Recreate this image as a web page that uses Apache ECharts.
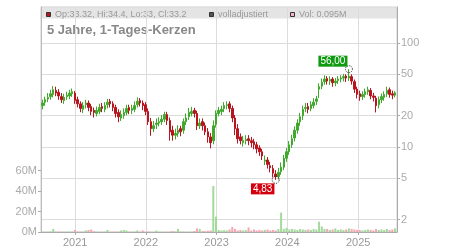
<!DOCTYPE html>
<html><head><meta charset="utf-8">
<script src="https://cdn.jsdelivr.net/npm/echarts@6/dist/echarts.min.js"></script>
<style>html,body{margin:0;padding:0;background:#fff}#c{width:450px;height:250px}</style>
</head><body><div id="c"></div><script>
// price candles (one candle per 14 calendar days)
const opens=[25,27,29,30.5,32,35,33.5,30.5,28,30.5,31,32.5,33,28.5,26,23,25.5,26.5,24.5,22.5,21,22,24.5,23,25.5,27.5,26,24,21.5,19,20,21.5,24,22.5,23,25.5,28,26.5,25.5,22,17.5,15,16.5,17,17.5,18.5,20.5,18,14.5,13,13.5,15,14.5,17.5,19.5,21,22.5,21,16,17.5,16,14,12.5,11.5,16.5,21,22,23.5,25,26,23.5,19,15,12.5,11,11.5,12,11.5,11.2,10.5,9.8,9,7.3,7.5,6.6,6.2,5.5,5.2,5.8,6.4,7.8,9,10.5,12.2,14.5,17.5,20,23.5,24.5,23.5,25,27.5,36,38.5,42.5,45.5,43,45,41.5,43.5,45,46,48,46,47.5,42.5,36,32.5,30.5,32,34,35,31,29.5,25.5,28.5,30,32.5,35.5,32.5,31.5];
const closes=[26.5,28.5,30,32.5,35.5,33,31,28.5,30,31.5,33,34,28,26,23.5,25,26.5,24,22,21.5,22.5,24,23.5,25,27,26,24,21,19.5,20.5,21.5,23.5,22.5,23.5,25,27.5,26.5,25,22,17.5,15,16,17,17.5,18.5,20.5,18,14,13,13.5,14.5,14,17.5,19,21.5,22,21,16,17,16,14,12.5,11,16,21,22.5,23,25,25.5,23.5,19,15,12,11.5,11.5,11.8,11.5,11,10.5,9.6,9,8.2,7.5,6.8,6.3,5.6,5.2,5.7,6.4,7.8,9,10.5,12,14.5,17,19.5,23,24,23,25.5,27,29,38,42,45,43,44.5,41.5,43,45,46,47.5,46,48,43,36,32,30.5,32,34,35.5,31,30,25,28.5,30.5,32,35,32,31.5,33.2];
const lows=[23,25,27,28.5,30,30.8,28.4,26.5,26,28.4,28.8,30.3,26,24,21.6,21.2,23.5,22.1,20.2,19.2,19.7,20.7,21.6,21.6,23.5,24,22.1,19.2,17.3,17.8,18.7,20.2,20.7,20.7,21.6,24,24.5,22.6,20.2,16.3,12.8,13.9,14.9,15.8,16.3,17.3,16.3,11.5,11.5,11.8,12.5,12.7,13.4,16.3,18.2,19.7,19.2,14.6,14.9,14.4,13,11,9.7,10.6,15.4,19.7,20.2,21.6,23,21.6,17.3,13,10.8,10.6,10.1,10.6,10.4,9.9,9.5,8.7,8.2,7.5,6.7,6.2,5.7,5.1,4.83,4.9,5.4,6,7.2,8.4,9.8,11.3,13.4,16,18.2,21.6,21.1,22.1,23.5,25.4,29.5,36,39.8,39.8,39.4,38,38.4,40.3,41.8,42.7,42.2,43.2,39.8,33.1,29.3,27.8,28.3,29.8,31.7,28.8,27.4,21.5,23.5,26.4,27.8,30.2,29.8,28.8,30];
const highs=[28.5,30.5,33,35.5,38.5,38,36,33,32.5,34,35.5,36.5,34.5,30.5,27.5,27,28.5,28,26,24,24.5,26,26.5,27,29,29,27.5,25.5,23,22.5,23.5,25.5,25.5,25.5,27.5,30,29.5,28,27,23.5,19,17.8,18.8,19.3,20.3,21.8,21.8,19.2,16,15,16.2,16,18.8,21,23.8,24.3,23.8,22.3,18.8,18.8,17.2,15.2,13.6,18,22.5,24.3,25,27,27.5,27.5,25,20.3,16.6,13.5,12.8,13,13,12.5,12,11.2,10.4,9.6,8.3,8,7.2,6.7,6,6.3,7.1,8.4,9.8,11.4,13.1,15.8,18.5,21.3,25,26.5,26.5,27.5,29.5,31,41,45.5,49,48,47.8,47,46,48,49,50.5,50,56,50,44.5,38,34.8,34.3,36.4,38,36.8,33.2,31,30.6,32.7,34.3,38,37.3,34.8,34.4];
// daily volume in millions at each candle
const volumesM=[0.3,0.3,0.4,0.5,3,0.4,0.3,0.3,0.3,0.3,0.4,0.5,2,0.5,0.4,0.5,1.5,2,2.5,0.8,0.3,0.3,0.3,0.4,2,0.3,0.3,0.4,0.3,1.5,2,1.5,0.3,0.3,0.4,1.5,0.3,1.5,0.3,0.4,0.3,0.3,1.5,0.3,0.3,0.3,0.3,0.4,1,0.5,3,0.5,0.4,0.3,0.3,0.3,1,3.5,3,1,0.8,1.2,1.5,45,15,2,1.5,1.8,1.5,2.5,5,3,1.5,2,1.5,1.8,4.5,1.5,2.5,1.5,2,1.5,2,2.5,1.5,2,1.5,3,19,3,4,2.5,3,2.5,2,3,2.5,2,2.5,2,3,2.5,10,5.5,3,3,2,2.5,3.5,2,2.5,2,2.5,3.5,3,2.5,2,2,1.5,2,2.5,2,1.5,3,2,2.5,2,3,2,2.5,3.5];
const firstDate=Date.UTC(2020,6,16), stepDays=14;
const axisStart=Date.UTC(2020,6,14), axisEnd=Date.UTC(2025,6,15);
const priceTicks=[2,5,10,20,50,100];
const volumeTicksM=[0,20,40,60];
const headerText='Op:33.32, Hi:34.4, Lo:33, Cl:33.2';
const headerAdj='volladjustiert';
const headerVol='Vol: 0.095M';
const titleText='5 Jahre, 1-Tages-Kerzen';

const dates=closes.map((_,i)=>firstDate+i*stepDays*864e5);
const candles=closes.map((c,i)=>[dates[i],opens[i],c,lows[i],highs[i]]);
const vols=volumesM.map((v,i)=>({value:[dates[i],v*1e6],itemStyle:{color:closes[i]>=opens[i]?'#a3da9b':'#f3a8b2'}}));
let iMax=0,iMin=0;
highs.forEach((h,i)=>{if(h>highs[iMax])iMax=i;});
lows.forEach((l,i)=>{if(l<lows[iMin])iMin=i;});
const fmt=v=>v.toFixed(2).replace('.',',');

const FONT='Liberation Sans, Arial, sans-serif';
const chart=echarts.init(document.getElementById('c'),null,{renderer:'canvas'});
chart.setOption({
  animation:false,
  textStyle:{fontFamily:FONT},
  grid:{left:41,right:53,top:7,bottom:18,show:true,borderColor:'#cfcfcf',borderWidth:1},
  xAxis:{type:'time',min:axisStart,max:axisEnd,minInterval:365*864e5,splitNumber:5,
    axisLine:{lineStyle:{color:'#aaa'}},
    axisTick:{show:true,length:3,lineStyle:{color:'#aaa'}},
    axisLabel:{color:'#999',fontSize:11,margin:5,formatter:'{yyyy}'},
    splitLine:{show:true,lineStyle:{color:'#dcdcdc'}}},
  yAxis:[
    {type:'log',logBase:10,position:'right',min:1.523,max:221.8,
      axisLine:{show:true,lineStyle:{color:'#aaa'}},
      axisTick:{show:true,length:3,customValues:priceTicks,lineStyle:{color:'#aaa'}},
      axisLabel:{color:'#aaa',fontSize:11,margin:4,customValues:priceTicks},
      splitLine:{show:true,lineStyle:{color:'#dcdcdc'}}},
    {type:'value',position:'left',min:0,max:220e6,
      axisLine:{show:true,lineStyle:{color:'#bbb'}},
      axisTick:{show:true,length:3,customValues:volumeTicksM.map(v=>v*1e6),lineStyle:{color:'#aaa'}},
      axisLabel:{color:'#aaa',fontSize:11,margin:4,customValues:volumeTicksM.map(v=>v*1e6),formatter:v=>Math.round(v/1e6)+'M'},
      splitLine:{show:false}}
  ],
  series:[
    {type:'bar',yAxisIndex:1,data:vols,barWidth:2,z:1},
    {type:'candlestick',yAxisIndex:0,data:candles,barWidth:2,z:3,
      itemStyle:{color:'#3fa92c',color0:'#b8141d',borderColor:'#3fa92c',borderColor0:'#b8141d',borderWidth:1},
      markPoint:{symbol:'circle',symbolSize:7,
        itemStyle:{color:'rgba(0,0,0,0)',borderColor:'#222',borderWidth:1,borderType:'dotted'},
        data:[
          {coord:[dates[iMax],highs[iMax]],value:highs[iMax],
            label:{show:true,position:'inside',offset:[-16,-8],formatter:fmt(highs[iMax]),color:'#fff',fontSize:10,backgroundColor:'#109a10',padding:[1,2,0,2]}},
          {coord:[dates[iMin],lows[iMin]],value:lows[iMin],
            label:{show:true,position:'inside',offset:[-13,9],formatter:fmt(lows[iMin]),color:'#fff',fontSize:10,backgroundColor:'#d4000f',padding:[1,2,0,2]}}
        ]}}
  ],
  graphic:{elements:[
    {type:'rect',z:-1,shape:{x:41.5,y:7.5,width:355.5,height:11},style:{fill:'#e4e4e4'}},
    {type:'rect',shape:{x:46.5,y:12.5,width:4,height:4},style:{fill:'#b8141d',stroke:'#333',lineWidth:1}},
    {type:'text',x:55,y:14.8,style:{text:headerText,fill:'#999',fontSize:9,fontFamily:FONT,textVerticalAlign:'middle'}},
    {type:'rect',shape:{x:209.5,y:12.5,width:4,height:4},style:{fill:'#555',stroke:'#333',lineWidth:1}},
    {type:'text',x:218,y:14.8,style:{text:headerAdj,fill:'#999',fontSize:9,fontFamily:FONT,textVerticalAlign:'middle'}},
    {type:'rect',shape:{x:290.5,y:12.5,width:4,height:4},style:{fill:'#f5b5c0',stroke:'#333',lineWidth:1}},
    {type:'text',x:299,y:14.8,style:{text:headerVol,fill:'#999',fontSize:9,fontFamily:FONT,textVerticalAlign:'middle'}},
    {type:'text',x:47,y:30,style:{text:titleText,fill:'#888',fontSize:13,fontWeight:'bold',fontFamily:FONT,textVerticalAlign:'middle'}}
  ]}
});
</script></body></html>
